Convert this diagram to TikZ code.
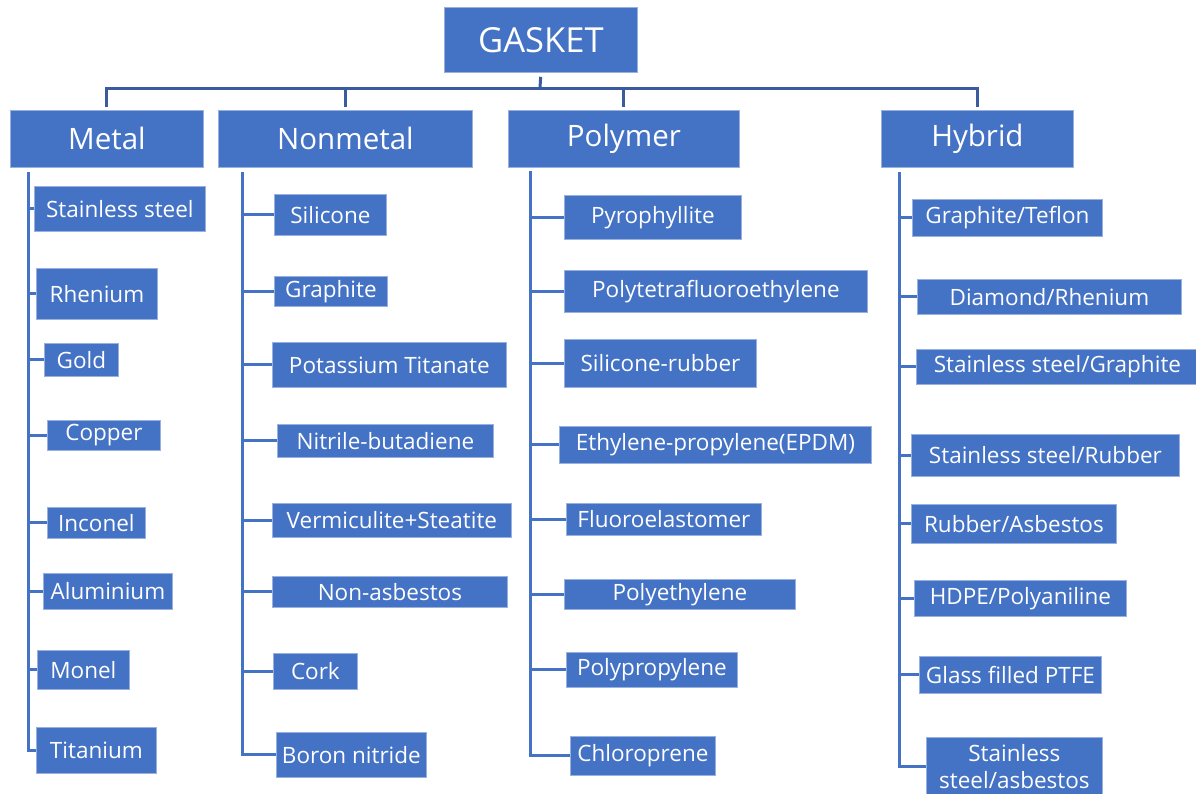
\documentclass[tikz,border=0pt]{standalone}
\usepackage{fontspec}
\setmainfont{Open Sans}
\definecolor{boxblue}{HTML}{4472C4}
\definecolor{busblue}{HTML}{3A5C9E}
\tikzset{
  box/.style={draw=boxblue!55!white, line width=0.8pt, fill=boxblue, text=white,
    inner sep=0pt, anchor=north west, align=center},
  leaf/.style={box, font=\fontsize{22.5}{27}\selectfont},
  group/.style={box, font=\fontsize{29.5}{34}\selectfont},
  bus/.style={draw=busblue, line width=3pt},
  spine/.style={draw=boxblue, line width=3pt}
}
\begin{document}
\begin{tikzpicture}[x=1pt,y=-1pt]
\useasboundingbox (0,0) rectangle (1196,793);
%\draw[help lines,step=50] (0,0) grid (1196,793);
\node[group, minimum width=193, minimum height=65, font=\fontsize{34.5}{38}\selectfont] (gasket) at (444,7) {GASKET};
\node[group, minimum width=193, minimum height=57] (metal) at (10,110) {Metal};
\node[group, minimum width=254, minimum height=57] (nonmetal) at (218,110) {Nonmetal};
\node[group, minimum width=231, minimum height=57] (polymer) at (508,110) {Polymer};
\node[group, minimum width=192, minimum height=57] (hybrid) at (881,110) {Hybrid};
\coordinate (bus) at (540,88);
\draw[bus, shorten <=4pt] (gasket.south) -- (bus);
\foreach \c in {metal,nonmetal,polymer,hybrid}
  \draw[bus, shorten <=3pt] (\c.north) |- (bus);
% metal
\foreach \i/\x/\y/\w/\h/\t in {1/34/186/171/45/Stainless steel, 2/36/268/121/51/Rhenium,
  3/44/343/74/33/Gold, 4/47/420/113/30/Copper, 5/47/507/98/31/Inconel,
  6/43/573/129/36/Aluminium, 7/37/650/92/39/Monel, 8/36/727/120/46/Titanium}
  \node[leaf, minimum width=\w, minimum height=\h] (m\i) at (\x,\y) {\t};
% nonmetal
\foreach \i/\x/\y/\w/\h/\t in {1/274/194/112/41/Silicone, 2/274/276/113/30/Graphite,
  3/272/342/234/45/Potassium Titanate, 4/277/424/216/33/Nitrile-butadiene,
  5/272/503/239/34/Vermiculite+Steatite, 6/272/576/235/31/Non-asbestos,
  7/273/653/84/36/Cork, 8/276/732/150/45/Boron nitride}
  \node[leaf, minimum width=\w, minimum height=\h] (n\i) at (\x,\y) {\t};
% polymer
\foreach \i/\x/\y/\w/\h/\t in {1/564/195/177/44/Pyrophyllite, 2/564/270/303/42/Polytetrafluoroethylene,
  3/564/339/192/48/Silicone-rubber, 4/559/426/312/37/Ethylene-propylene(EPDM),
  5/566/503/195/32/Fluoroelastomer, 6/564/579/231/30/Polyethylene,
  7/566/652/171/35/Polypropylene, 8/570/736/145/39/Chloroprene}
  \node[leaf, minimum width=\w, minimum height=\h] (p\i) at (\x,\y) {\t};
% hybrid
\foreach \i/\x/\y/\w/\h/\t in {1/912/199/190/37/{Graphite/Teflon}, 2/917/279/264/35/{Diamond/Rhenium},
  3/916/349/282/35/{Stainless steel/Graphite}, 4/911/434/268/42/{Stainless steel/Rubber},
  5/911/504/205/39/{Rubber/Asbestos}, 6/914/580/212/36/{HDPE/Polyaniline},
  7/919/656/182/37/{Glass filled PTFE}, 8/926/737/176/58/{Stainless\\steel/asbestos}}
  \node[leaf, minimum width=\w, minimum height=\h] (h\i) at (\x,\y) {\t};
% spines
\coordinate (ms) at (28,172);
\coordinate (ns) at (242,172);
\coordinate (ps) at (530,171);
\coordinate (hs) at (899,172);
\foreach \s in {m,n,p,h}{
  \draw[spine] (\s s) |- (\s8.west);
  \foreach \i in {1,...,7}
    \draw[spine] (\s\i.west -| \s s) -- (\s\i.west);
}
\end{tikzpicture}
\end{document}
